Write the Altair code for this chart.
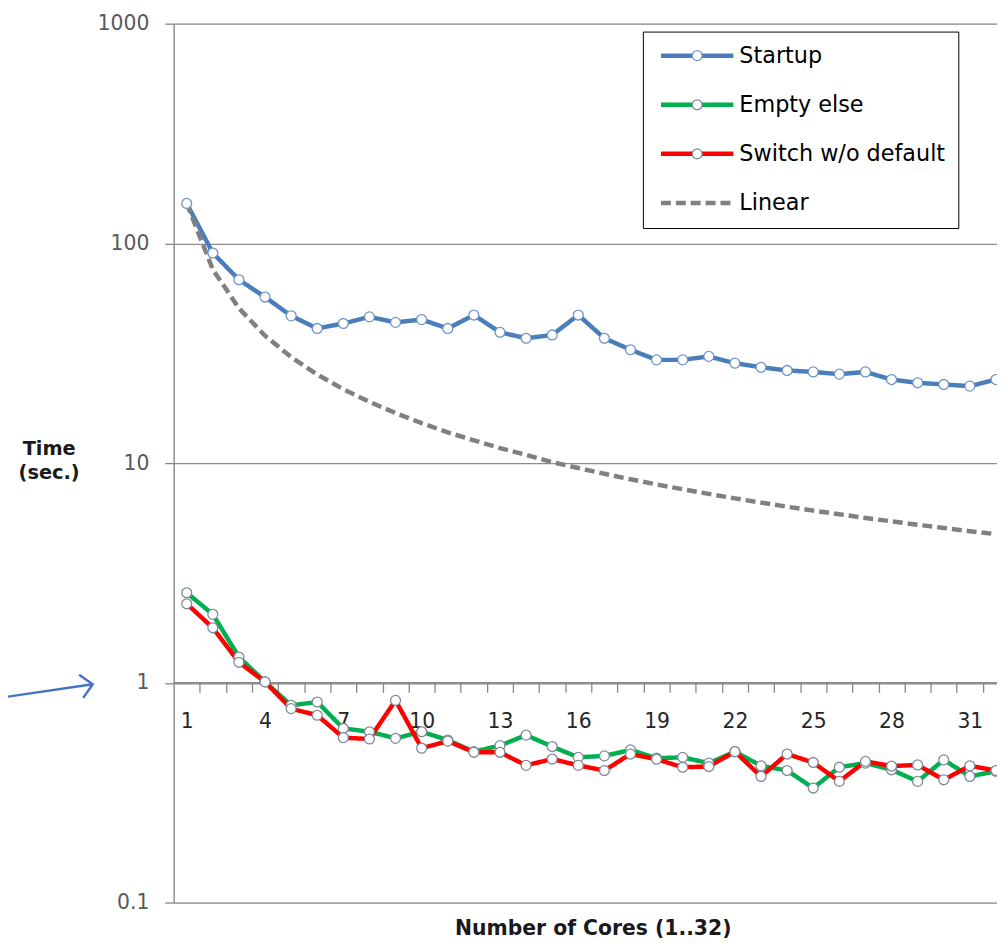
import altair as alt
import pandas as pd

FONT = "DejaVu Sans"

# ---- data ----
cores = list(range(1, 33))
startup = [152, 90.4, 68.3, 57.0, 46.8, 41.0, 43.2, 46.3, 43.7, 45.0, 41.0, 47.2,
           39.4, 37.0, 38.3, 47.2, 37.0, 32.8, 29.5, 29.5, 30.6, 28.5, 27.3, 26.4,
           26.0, 25.4, 26.0, 24.0, 23.2, 22.8, 22.4, 24.0]
empty_else = [2.57, 2.05, 1.31, 1.01, 0.79, 0.818, 0.62, 0.599, 0.559, 0.599, 0.549, 0.486,
              0.518, 0.578, 0.513, 0.458, 0.465, 0.495, 0.454, 0.458, 0.431, 0.486, 0.419, 0.399,
              0.332, 0.413, 0.431, 0.402, 0.356, 0.446, 0.375, 0.396]
switch_no_default = [2.29, 1.78, 1.24, 1.01, 0.763, 0.712, 0.563, 0.555, 0.832, 0.504, 0.543, 0.483,
                     0.483, 0.421, 0.450, 0.421, 0.399, 0.474, 0.449, 0.413, 0.416, 0.486, 0.375, 0.474,
                     0.434, 0.356, 0.439, 0.418, 0.423, 0.362, 0.419, 0.399]
linear = [152, 76, 50.7, 38.0, 30.4, 25.3, 21.7, 19.0, 16.9, 15.2, 13.8, 12.7,
          11.7, 10.9, 10.1, 9.5, 8.94, 8.44, 8.0, 7.6, 7.24, 6.91, 6.61, 6.33,
          6.08, 5.85, 5.63, 5.43, 5.24, 5.07, 4.90, 4.75]

series_all = ["Startup", "Empty else", "Switch w/o default", "Linear"]
series_marked = ["Startup", "Empty else", "Switch w/o default"]
line_colors = ["#4A7EBB", "#00B050", "#FF0000", "#808080"]
marker_strokes = ["#6F95C8", "#7F8A99", "#7F8A99"]
y_ticks = [0.1, 1, 10, 100, 1000]
x_label_values = [1, 4, 7, 10, 13, 16, 19, 22, 25, 28, 31]
x_tick_values = [c + 0.5 for c in cores[:-1]]

# annotation arrow (data coordinates)
arrow_x = [-6.3, -2.6]
arrow_y = [0.85, 0.985]

# ---- tables ----
rows = []
for name, vals in zip(series_all, [startup, empty_else, switch_no_default, linear]):
    for c, v in zip(cores, vals):
        rows.append({"core": c, "time": v, "series": name})
df = pd.DataFrame(rows)
df_pts = df[df["series"].isin(series_marked)]
arrow_df = pd.DataFrame({"x": arrow_x, "time": arrow_y})
arrow_head = arrow_df.tail(1)

x_scale = alt.Scale(domain=[0.5, 32.04], nice=False, zero=False)
y_scale = alt.Scale(type="log", domain=[0.1, 1000], nice=False)

AX = dict(orient="bottom", offset=-222, domainColor="#868686", domainWidth=1.3,
          grid=False, title=None)
x_axis_labels = alt.Axis(
    values=x_label_values, format="d", ticks=False, labelOverlap=False,
    labelFlush=False, labelFont=FONT, labelFontSize=20.5, labelColor="#262626",
    labelPadding=30, **AX)
x_axis_ticks = alt.Axis(
    values=x_tick_values, labels=False, tickSize=10, tickColor="#868686",
    tickWidth=1.3, **AX)

y_axis = alt.Axis(
    values=y_ticks, format="~g", grid=True, gridColor="#8C8C8C", gridWidth=1.3,
    tickSize=9, tickColor="#868686", tickWidth=1.3, domainColor="#868686", domainWidth=1.3,
    labelFont=FONT, labelFontSize=20.5, labelColor="#595959", labelPadding=16,
    title=["Time", "(sec.)"], titleAngle=0, titleAlign="center", titleBaseline="top",
    titleX=-126, titleY=419, titleFont=FONT, titleFontSize=19.5, titleFontWeight="bold",
    titleColor="#1a1a1a", titleLineHeight=25,
)

LFS = 22.5
line_legend = dict(
    title=None, orient="none", legendX=473, legendY=8, padding=13, rowPadding=26.5,
    labelFont=FONT, labelFontSize=LFS, labelLimit=400, labelColor="black",
    symbolType="M-1,0H11.17", symbolSize=144, symbolStrokeWidth=4,
    labelOffset=61.75, strokeColor="black", fillColor="white",
)

lines = alt.Chart(df).mark_line(strokeCap="butt").encode(
    x=alt.X("core:Q", scale=x_scale, axis=x_axis_labels),
    y=alt.Y("time:Q", scale=y_scale, axis=y_axis),
    color=alt.Color("series:N", scale=alt.Scale(domain=series_all, range=line_colors),
                    legend=alt.Legend(**line_legend)),
    strokeDash=alt.StrokeDash("series:N",
                              scale=alt.Scale(domain=series_all, range=[[1, 0], [1, 0], [1, 0], [10, 5]]),
                              legend=alt.Legend(**line_legend)),
    strokeWidth=alt.StrokeWidth("series:N",
                                scale=alt.Scale(domain=series_all, range=[4.5, 4.5, 4.5, 3.5]),
                                legend=None),
)

points = alt.Chart(df_pts).mark_point(filled=True, fill="white", opacity=1, size=100, strokeWidth=1.3).encode(
    x=alt.X("core:Q", scale=x_scale, axis=x_axis_ticks),
    y=alt.Y("time:Q"),
    stroke=alt.Stroke("series:N", scale=alt.Scale(domain=series_marked, range=marker_strokes),
                      legend=alt.Legend(title=None, orient="none", legendX=503.5, legendY=8,
                                        padding=13, rowPadding=26.5, labelFont=FONT,
                                        labelFontSize=LFS, labelExpr="''", labelOpacity=0,
                                        symbolType="circle", symbolSize=100,
                                        symbolStrokeWidth=1.3, symbolFillColor="white",
                                        zindex=1)),
)

arrow_line = alt.Chart(arrow_df).mark_line(color="#4472C4", strokeWidth=2.4).encode(
    x=alt.X("x:Q", axis=None), y=alt.Y("time:Q"))
arrow_tip = alt.Chart(arrow_head).mark_point(
    shape="M-1,-1L0,0L-1,1", angle=350, size=560, filled=False, color="#4472C4",
    strokeWidth=2.4, opacity=1).encode(x=alt.X("x:Q", axis=None), y=alt.Y("time:Q"))

chart = alt.layer(lines, points, arrow_line, arrow_tip).resolve_axis(x="independent").properties(
    width=830, height=886,
    autosize=alt.AutoSizeParams(type="none"),
    padding={"left": 167, "top": 12, "right": 0, "bottom": 38},
    title=alt.TitleParams("Number of Cores (1..32)", orient="bottom", anchor="middle",
                          frame="group", font=FONT, fontSize=20.5, fontWeight="bold",
                          color="#1a1a1a", offset=6, dx=8, baseline="top"),
).configure_view(stroke="transparent", strokeWidth=0).configure(background="white")

chart.save("out.html", embed_options={"renderer": "svg", "actions": False})
